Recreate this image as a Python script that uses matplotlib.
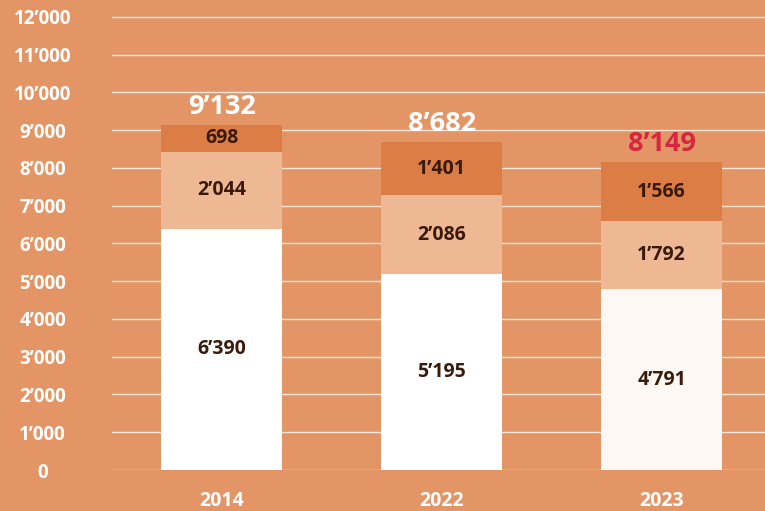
import matplotlib
matplotlib.use("Agg")
import matplotlib.pyplot as plt
import numpy as np

plt.rcParams['font.family'] = ['Open Sans', 'DejaVu Sans']

years = ["2014", "2022", "2023"]
bottom_vals = [6390, 5195, 4791]
middle_vals = [2044, 2086, 1792]
top_vals = [698, 1401, 1566]
totals = [9132, 8682, 8149]
total_labels = ["9’132", "8’682", "8’149"]
bottom_labels = ["6’390", "5’195", "4’791"]
middle_labels = ["2’044", "2’086", "1’792"]
top_labels = ["698", "1’401", "1’566"]
yticks = list(range(0, 12001, 1000))
ytick_labels = ["0", "1’000", "2’000", "3’000", "4’000", "5’000", "6’000",
                "7’000", "8’000", "9’000", "10’000", "11’000", "12’000"]

bg = "#E39566"
c_top = "#DC7D45"
c_mid = "#EDB893"
bottom_colors = ["#FFFFFF", "#FFFFFF", "#FDF8F4"]
txt_dark = "#3A1A0B"
total_colors = ["white", "white", "#D7263F"]

fig = plt.figure(figsize=(7.65, 5.11), dpi=100, facecolor=bg)
ax = fig.add_axes([112/765, 41/511, 1 - 112/765, 470/511])
ax.set_facecolor(bg)

x = np.arange(len(years))
w = 0.55
b = np.array(bottom_vals)
m = np.array(middle_vals)
t = np.array(top_vals)

ax.bar(x, b, w, color=bottom_colors, zorder=3)
ax.bar(x, m, w, bottom=b, color=c_mid, zorder=3)
ax.bar(x, t, w, bottom=b + m, color=c_top, zorder=3)

seg_fs = 14
for i in range(len(years)):
    ax.text(x[i], b[i] / 2, bottom_labels[i], ha='center', va='center',
            fontsize=seg_fs, fontweight='bold', color=txt_dark, zorder=4)
    ax.text(x[i], b[i] + m[i] / 2, middle_labels[i], ha='center', va='center',
            fontsize=seg_fs, fontweight='bold', color=txt_dark, zorder=4)
    ax.text(x[i], b[i] + m[i] + t[i] / 2, top_labels[i], ha='center', va='center',
            fontsize=seg_fs, fontweight='bold', color=txt_dark, zorder=4)
    ax.annotate(total_labels[i], (x[i], totals[i]), xytext=(0, 8),
                textcoords='offset points', ha='center', va='baseline',
                fontsize=19.5, fontweight='bold', color=total_colors[i], zorder=4)

ax.set_xlim(-0.5, 2.47)
ax.set_ylim(0, 12450)
ax.set_yticks(yticks)
ax.set_yticklabels(ytick_labels)
ax.set_xticks(x)
ax.set_xticklabels(years)
ax.tick_params(axis='y', length=0, pad=50, labelcolor='white', labelsize=13.5)
ax.tick_params(axis='x', length=0, pad=15, labelcolor='white', labelsize=14)
for lbl in ax.get_yticklabels():
    lbl.set_horizontalalignment('center')
    lbl.set_fontweight('bold')
for lbl in ax.get_xticklabels():
    lbl.set_fontweight('bold')

ax.grid(axis='y', color='#F7E6DA', linewidth=1.0, zorder=0)
for s in ax.spines.values():
    s.set_visible(False)

fig.savefig("out.png", dpi=100, facecolor=bg)
